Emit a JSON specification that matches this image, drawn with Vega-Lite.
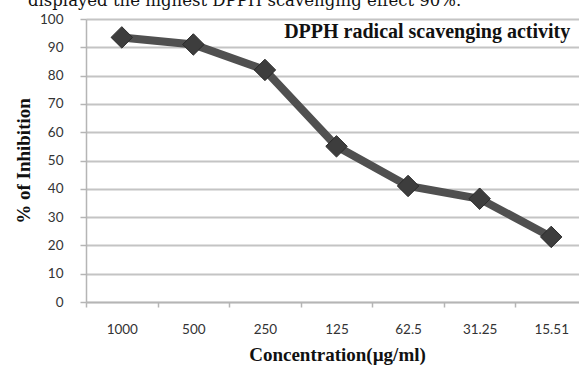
{
  "$schema": "https://vega.github.io/schema/vega-lite/v6.json",
  "width": 501,
  "height": 283,
  "autosize": "none",
  "padding": {"left": 86, "top": 19, "right": 0, "bottom": 65},
  "background": "white",
  "config": {"view": {"stroke": null}},
  "title": {
    "text": "displayed the highest DPPH scavenging effect 90%.",
    "anchor": "start", "frame": "group", "dx": -58, "offset": 0, "dy": 10,
    "baseline": "alphabetic", "font": "DejaVu Serif", "fontSize": 16.5,
    "fontWeight": "normal", "color": "#111111"
  },
  "data": {
    "values": [
      {"conc": "1000", "inhibition": 93.5},
      {"conc": "500", "inhibition": 91},
      {"conc": "250", "inhibition": 82},
      {"conc": "125", "inhibition": 55},
      {"conc": "62.5", "inhibition": 41},
      {"conc": "31.25", "inhibition": 36.5},
      {"conc": "15.51", "inhibition": 23}
    ]
  },
  "encoding": {
    "x": {
      "field": "conc", "type": "ordinal", "sort": null,
      "scale": {"paddingInner": 0, "paddingOuter": 0},
      "axis": {
        "title": "Concentration(µg/ml)", "labelAngle": 0,
        "labelFont": "Lato", "labelFontSize": 13.5, "labelColor": "#333333",
        "labelPadding": 15, "tickBand": "extent", "tickSize": 5,
        "tickColor": "#b5b5b5", "tickWidth": 1.5, "domainColor": "#b5b5b5", "domainWidth": 1.5,
        "titleFont": "Liberation Serif", "titleFontWeight": "bold", "titleFontSize": 19,
        "titleColor": "#111111", "titlePadding": 10, "titleX": 251
      }
    },
    "y": {
      "field": "inhibition", "type": "quantitative",
      "scale": {"domain": [0, 100], "nice": false},
      "axis": {
        "title": "% of Inhibition", "values": [0,10,20,30,40,50,60,70,80,90,100],
        "labelFont": "Lato", "labelFontSize": 13.5, "labelColor": "#333333",
        "labelPadding": 17, "tickSize": 6, "tickColor": "#b5b5b5", "tickWidth": 1.5,
        "domainColor": "#b5b5b5", "domainWidth": 1.5,
        "grid": true, "gridColor": "#c4c4c4", "gridWidth": 2,
        "titleFont": "Liberation Serif", "titleFontWeight": "bold", "titleFontSize": 19,
        "titleColor": "#111111", "titleX": -53
      }
    }
  },
  "layer": [
    {"mark": {"type": "line", "color": "#505050", "strokeWidth": 8}},
    {"mark": {"type": "point", "shape": "diamond", "filled": true, "size": 460, "color": "#3d3d3d", "opacity": 1, "stroke": "#2a2a2a", "strokeWidth": 1}},
    {
      "data": {"values": [{"label": "DPPH radical scavenging activity", "pos": "15.51", "val": 95.4}]},
      "mark": {"type": "text", "align": "right", "baseline": "middle", "dx": 19, "font": "Liberation Serif", "fontWeight": "bold", "fontSize": 20, "color": "#111111"},
      "encoding": {
        "x": {"field": "pos", "type": "ordinal"},
        "y": {"field": "val", "type": "quantitative"},
        "text": {"field": "label"}
      }
    }
  ]
}
